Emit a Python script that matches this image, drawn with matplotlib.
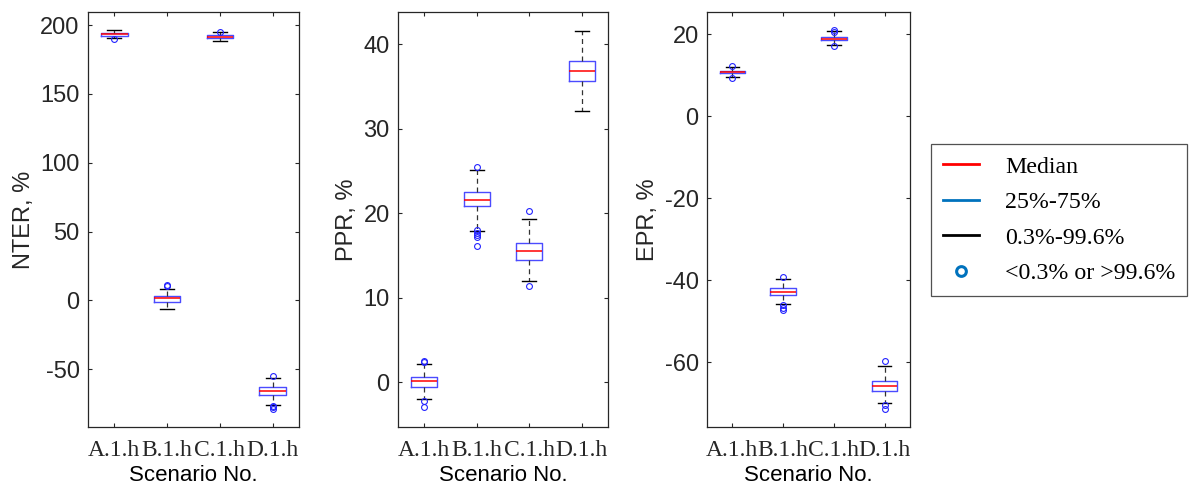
import matplotlib
matplotlib.use("Agg")
import matplotlib.pyplot as plt
from matplotlib.lines import Line2D

plt.rcParams["axes.unicode_minus"] = False

scenarios = ["A.1.h", "B.1.h", "C.1.h", "D.1.h"]

# NTER, %
nter_med = [193.2, 1.4, 191.3, -66.2]
nter_q1 = [192.0, -1.1, 190.3, -68.4]
nter_q3 = [194.0, 3.3, 192.5, -63.3]
nter_lo = [190.5, -6.6, 188.2, -75.7]
nter_hi = [196.1, 8.4, 194.7, -56.5]
nter_out = [[189.6], [10.3, 11.3], [195.2], [-54.9, -76.4, -77.6, -79.0]]

# PPR, %
ppr_med = [0.1, 21.6, 15.5, 36.8]
ppr_q1 = [-0.6, 20.8, 14.5, 35.6]
ppr_q3 = [0.6, 22.5, 16.5, 38.0]
ppr_lo = [-2.0, 17.9, 12.0, 32.1]
ppr_hi = [2.1, 25.1, 19.3, 41.6]
ppr_out = [[2.4, 2.5, -2.2, -2.9], [25.5, 18.0, 17.7, 17.4, 17.2, 16.1], [20.2, 11.4], []]

# EPR, %
epr_med = [10.8, -42.8, 18.9, -65.9]
epr_q1 = [10.5, -43.6, 18.5, -67.0]
epr_q3 = [11.05, -42.0, 19.4, -64.5]
epr_lo = [9.5, -45.8, 17.3, -70.0]
epr_hi = [12.0, -39.8, 20.7, -61.0]
epr_out = [[12.3, 9.3], [-39.3, -46.1, -46.8, -47.3], [21.0, 20.6, 17.2], [-59.7, -70.5, -71.3]]

panels = [
    ("NTER, %", nter_med, nter_q1, nter_q3, nter_lo, nter_hi, nter_out, (-92, 209.5), [-50, 0, 50, 100, 150, 200]),
    ("PPR, %", ppr_med, ppr_q1, ppr_q3, ppr_lo, ppr_hi, ppr_out, (-5.3, 43.8), [0, 10, 20, 30, 40]),
    ("EPR, %", epr_med, epr_q1, epr_q3, epr_lo, epr_hi, epr_out, (-75.8, 25.4), [-60, -40, -20, 0, 20]),
]

positions = [[88, 211], [398, 210], [707, 203]]  # px left, width

fig = plt.figure(figsize=(11.9, 4.84), dpi=100)
W, H = 1190, 484
dark = "#262626"
sans = ["Liberation Sans", "DejaVu Sans"]
serif = ["Liberation Serif", "DejaVu Serif"]

for (ylabel, med, q1, q3, lo, hi, out, ylim, yt), (left, width) in zip(panels, positions):
    ax = fig.add_axes([left / W, (H - 427) / H, width / W, 415 / H])
    stats = []
    for i in range(4):
        stats.append(dict(med=med[i], q1=q1[i], q3=q3[i], whislo=lo[i], whishi=hi[i],
                          fliers=out[i], label=scenarios[i]))
    ax.bxp(stats, positions=[1, 2, 3, 4], widths=0.5, showfliers=True,
           boxprops=dict(color="#4b4bff", linewidth=1.0),
           medianprops=dict(color="#ff0000", linewidth=1.1),
           whiskerprops=dict(color="#333333", linewidth=0.9, linestyle=(0, (4, 3))),
           capprops=dict(color="black", linewidth=1.0),
           capwidths=0.27,
           flierprops=dict(marker="o", markerfacecolor="none", markeredgecolor="#2222ff",
                           markersize=4.2, markeredgewidth=0.8, linestyle="none"))
    ax.set_xlim(0.5, 4.5)
    ax.set_ylim(*ylim)
    ax.set_yticks(yt)
    ax.set_xticks([1, 2, 3, 4])
    ax.set_xticklabels(scenarios, family=serif, fontsize=17, color="#111111")
    for lab in ax.get_yticklabels():
        lab.set_family(sans)
        lab.set_fontsize(17)
        lab.set_color(dark)
    ax.tick_params(direction="in", top=True, right=True, length=3, width=0.8, colors=dark, pad=6)
    ax.tick_params(axis="x", pad=9)
    for s in ax.spines.values():
        s.set_color(dark)
        s.set_linewidth(0.9)
    ax.set_ylabel(ylabel, family=sans, fontsize=17, color=dark, labelpad=4)
    ax.set_xlabel("Scenario No.", family=sans, fontsize=16, color="black", labelpad=3)

handles = [
    Line2D([], [], color="#ff0000", linewidth=2),
    Line2D([], [], color="#0072BD", linewidth=2),
    Line2D([], [], color="black", linewidth=2),
    Line2D([], [], color="#0072BD", marker="o", linestyle="none", markersize=7,
           markerfacecolor="none", markeredgewidth=2.2),
]
labels = ["Median", "25%-75%", "0.3%-99.6%", "<0.3% or >99.6%"]
leg = fig.legend(handles, labels, loc="upper left", bbox_to_anchor=(931 / W, 1 - 144 / H),
                 prop=dict(family=serif, size=17.2), frameon=True, fancybox=False,
                 edgecolor=dark, handlelength=1.5, handletextpad=1.1, labelspacing=0.58,
                 borderpad=0.5, borderaxespad=0)
leg.get_frame().set_linewidth(0.9)

fig.savefig("out.png", dpi=100)
